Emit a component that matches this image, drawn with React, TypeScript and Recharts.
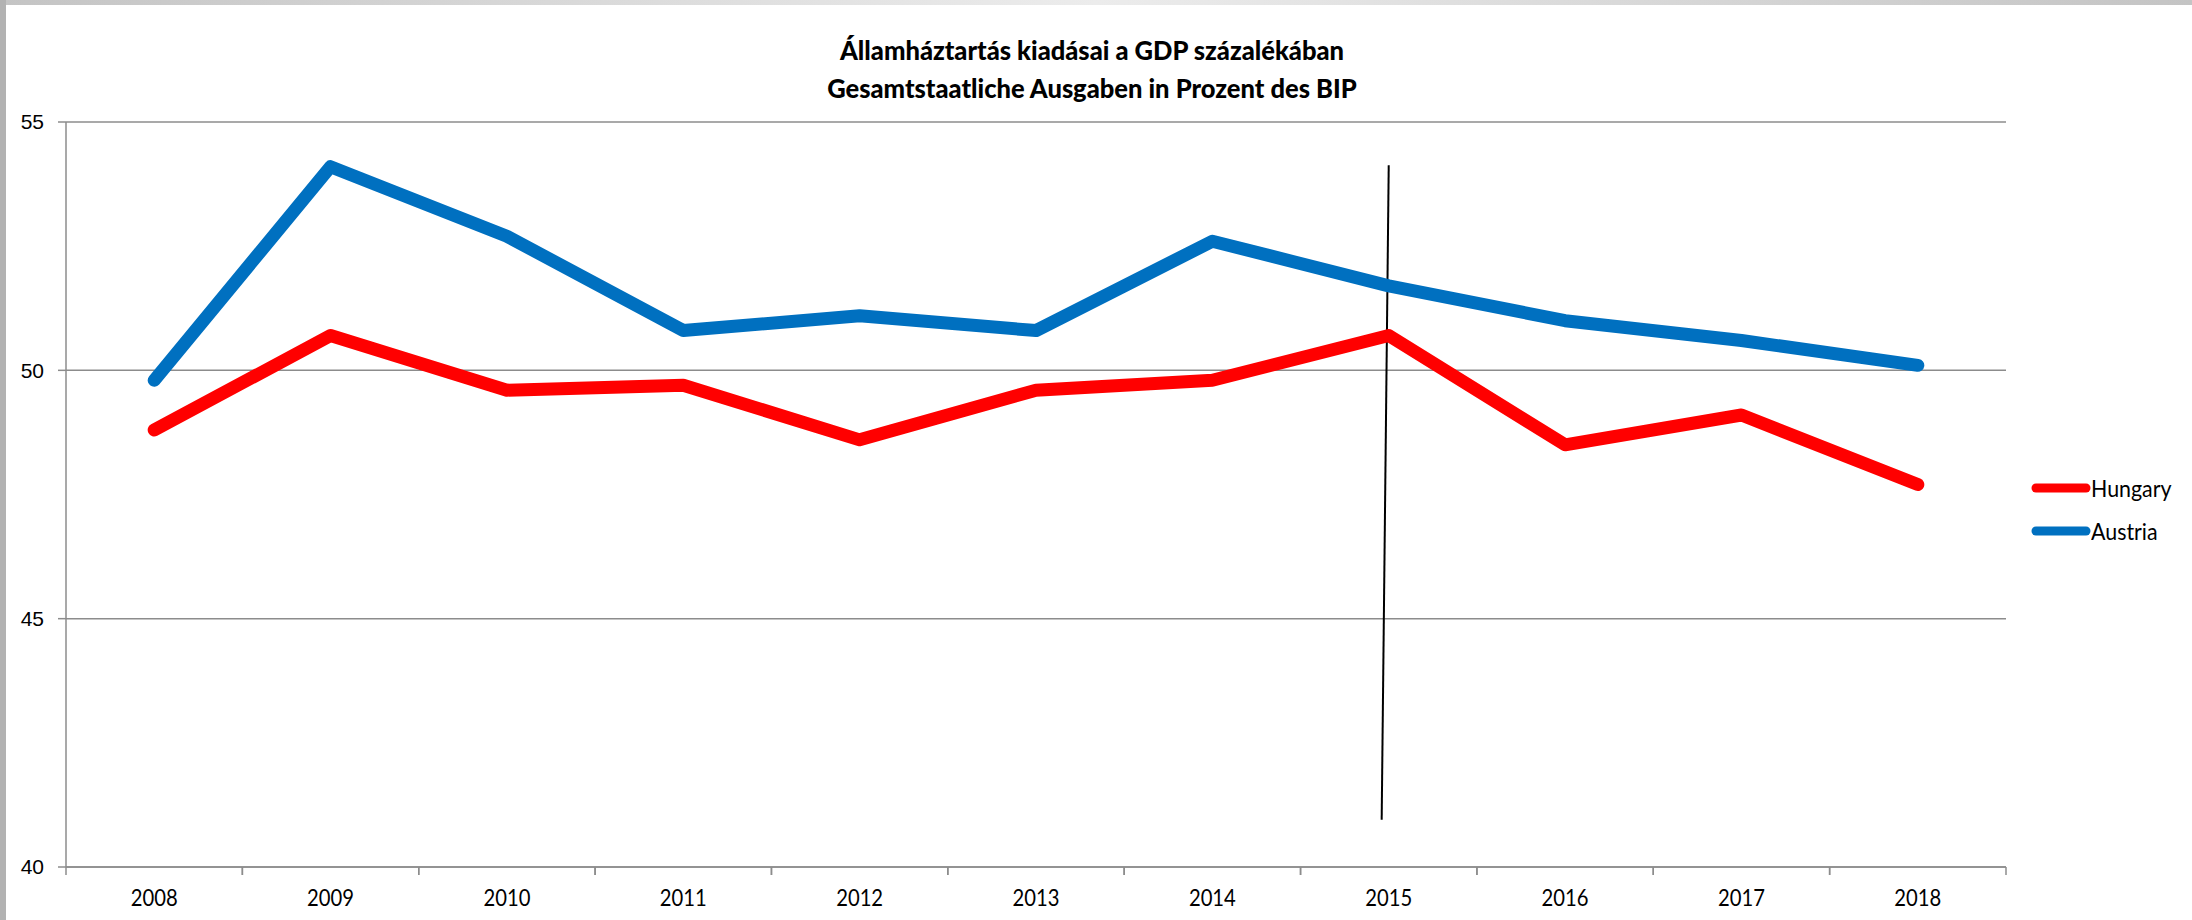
import React from "react";
import {
  LineChart,
  Line,
  XAxis,
  YAxis,
  CartesianGrid,
  Legend,
  ReferenceLine,
} from "recharts";

const years = ["2008", "2009", "2010", "2011", "2012", "2013", "2014", "2015", "2016", "2017", "2018"];
const hungary = [48.8, 50.7, 49.6, 49.7, 48.6, 49.6, 49.8, 50.7, 48.5, 49.1, 47.7];
const austria = [49.8, 54.1, 52.7, 50.8, 51.1, 50.8, 52.6, 51.7, 51.0, 50.6, 50.1];
const yTicks = [40, 45, 50, 55];
const legendOrder = ["Hungary", "Austria"];
// hand drawn marker line near 2015 (year index, value)
const markerLine = [
  { x: 7.0, y: 54.13 },
  { x: 6.96, y: 40.95 },
];

const titleLines = [
  "Államháztartás kiadásai a GDP százalékában",
  "Gesamtstaatliche Ausgaben in Prozent des BIP",
];

const data = years.map((year, i) => ({
  year,
  idx: i,
  Hungary: hungary[i],
  Austria: austria[i],
}));

const FONT = "Lato, 'Open Sans', sans-serif";
const AXIS_COLOR = "#8c8c8c";
const PLOT_WIDTH = 2192 - 66 - 186;
const HALF_BAND = PLOT_WIDTH / years.length / 2;

function YearTick(props: any) {
  const { x, y, payload, width } = props;
  const band = width / years.length;
  return (
    <g>
      <line x1={x - band / 2} y1={y - 8} x2={x - band / 2} y2={y} stroke={AXIS_COLOR} strokeWidth={1.5} />
      <line x1={x + band / 2} y1={y - 8} x2={x + band / 2} y2={y} stroke={AXIS_COLOR} strokeWidth={1.5} />
      <text
        transform={`translate(${x},${y + 31}) scale(0.88,1)`}
        textAnchor="middle"
        fontFamily={FONT}
        fontSize={23}
        fill="#000"
      >
        {payload.value}
      </text>
    </g>
  );
}

function LegendContent(props: any) {
  const { payload } = props;
  const items = legendOrder.map((name) => payload.find((p: any) => p.value === name)).filter(Boolean);
  return (
    <div>
      {items.map((entry: any) => (
        <div key={entry.value} style={{ display: "flex", alignItems: "center", height: 43 }}>
          <svg width={60} height={12}>
            <line x1={5} y1={6} x2={55} y2={6} stroke={entry.color} strokeWidth={9} strokeLinecap="round" />
          </svg>
          <span
            style={{
              fontFamily: FONT,
              fontSize: 23,
              color: "#000",
              lineHeight: "24px",
              display: "inline-block",
              transform: "scaleX(0.93)",
              transformOrigin: "left center",
            }}
          >
            {entry.value}
          </span>
        </div>
      ))}
    </div>
  );
}

export default function App() {
  return (
    <div
      style={{
        position: "absolute",
        left: 0,
        top: 0,
        width: 2192,
        height: 920,
        background: "#fff",
        overflow: "hidden",
      }}
    >
      <div
        style={{
          position: "absolute",
          left: 0,
          top: 0,
          width: 2192,
          height: 5,
          background: "linear-gradient(to right, #c4c4c4, #ececec 50%, #c4c4c4)",
        }}
      />
      <div style={{ position: "absolute", left: 0, top: 0, width: 6, height: 920, background: "#b2b2b2" }} />
      <div
        style={{
          position: "absolute",
          left: 0,
          top: 31,
          width: 2184,
          textAlign: "center",
          fontFamily: FONT,
          fontWeight: 900,
          fontSize: 27,
          lineHeight: "38px",
          color: "#000",
          zIndex: 2,
          transform: "scaleX(0.945)",
          transformOrigin: "1092px 0",
        }}
      >
        {titleLines.map((t) => (
          <div key={t}>{t}</div>
        ))}
      </div>
      <LineChart
        width={2192}
        height={920}
        data={data}
        margin={{ top: 122, right: 186, bottom: 0, left: 0 }}
      >
        <CartesianGrid vertical={false} stroke={AXIS_COLOR} strokeWidth={1.5} />
        <XAxis
          dataKey="year"
          scale="band"
          height={53}
          axisLine={{ stroke: AXIS_COLOR, strokeWidth: 1.5 }}
          tickLine={false}
          tick={<YearTick />}
          interval={0}
        />
        <XAxis
          xAxisId="num"
          dataKey="idx"
          type="number"
          domain={[0, years.length - 1]}
          padding={{ left: HALF_BAND, right: HALF_BAND }}
          hide
        />
        <YAxis
          width={66}
          domain={[40, 55]}
          ticks={yTicks}
          interval={0}
          axisLine={{ stroke: AXIS_COLOR, strokeWidth: 1.5 }}
          tickLine={{ stroke: AXIS_COLOR, strokeWidth: 1.5 }}
          tickSize={8}
          tickMargin={14}
          tick={{ fontFamily: "'Liberation Sans', sans-serif", fontSize: 21, fill: "#000" }}
        />
        <ReferenceLine
          xAxisId="num"
          segment={markerLine}
          stroke="#000"
          strokeWidth={2}
          ifOverflow="visible"
        />
        <Line
          dataKey="Hungary"
          stroke="#ff0000"
          strokeWidth={13}
          strokeLinecap="round"
          strokeLinejoin="round"
          dot={false}
          activeDot={false}
          isAnimationActive={false}
        />
        <Line
          dataKey="Austria"
          stroke="#0070c0"
          strokeWidth={13}
          strokeLinecap="round"
          strokeLinejoin="round"
          dot={false}
          activeDot={false}
          isAnimationActive={false}
        />
        <Legend
          align="center"
          verticalAlign="middle"
          content={<LegendContent />}
          wrapperStyle={{ left: 2031, top: 466, width: 150 }}
        />
      </LineChart>
    </div>
  );
}
